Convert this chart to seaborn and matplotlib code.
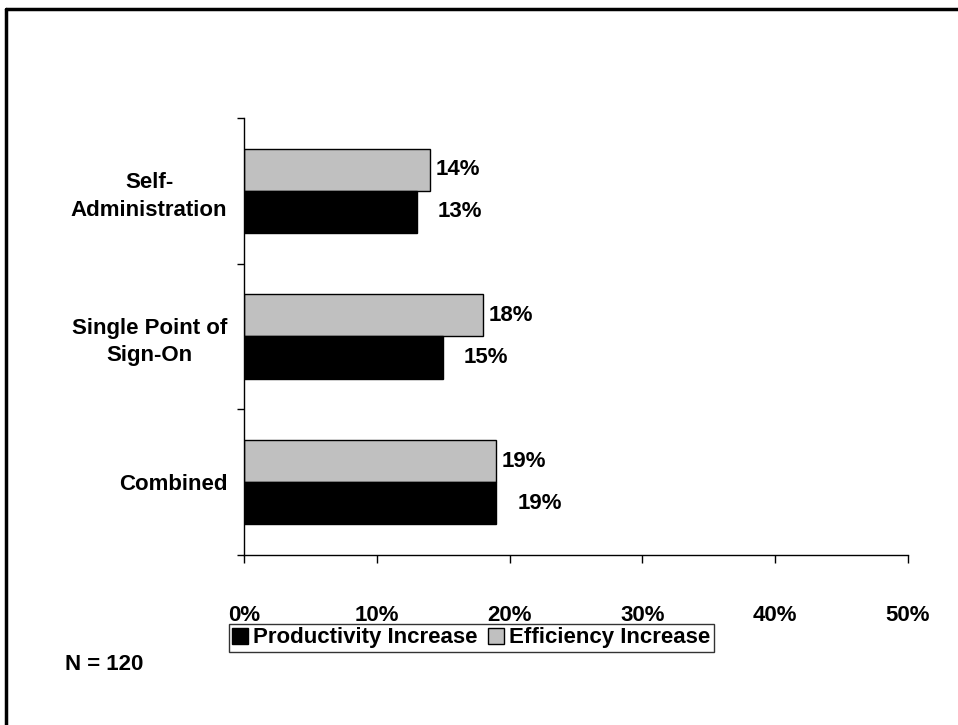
import pandas as pd
import matplotlib
matplotlib.use("Agg")
import matplotlib.pyplot as plt
from matplotlib.lines import Line2D
from matplotlib.patches import Patch
import seaborn as sns

categories = ["Self-\nAdministration", "Single Point of\nSign-On", "Combined"]
productivity = [13, 15, 19]
efficiency = [14, 18, 19]
x_ticks = [0, 10, 20, 30, 40, 50]
x_labels = ["0%", "10%", "20%", "30%", "40%", "50%"]

df = pd.DataFrame({
    "category": categories * 2,
    "value": efficiency + productivity,
    "series": ["Efficiency Increase"] * 3 + ["Productivity Increase"] * 3,
})

sns.set_theme(style="white")
plt.rcParams["font.family"] = ["Liberation Sans", "DejaVu Sans"]
plt.rcParams["font.weight"] = "bold"
plt.rcParams["text.color"] = "black"
plt.rcParams["xtick.color"] = "black"
plt.rcParams["ytick.color"] = "black"

FS = 16

fig = plt.figure(figsize=(9.58, 7.25), dpi=100)
ax = fig.add_axes([0.2547, 0.2345, 0.6931, 0.6028])

palette = {"Efficiency Increase": "#c0c0c0", "Productivity Increase": "#000000"}
sns.barplot(data=df, x="value", y="category", hue="series",
            hue_order=["Efficiency Increase", "Productivity Increase"],
            palette=palette, orient="h", width=0.58, edgecolor="black",
            linewidth=1, saturation=1, legend=False, ax=ax)

# value labels
ax.bar_label(ax.containers[0], labels=[f"{v}%" for v in efficiency],
             padding=4, fontsize=FS, fontweight="bold", color="black")
ax.bar_label(ax.containers[1], labels=[f"{v}%" for v in productivity],
             padding=15, fontsize=FS, fontweight="bold", color="black")

ax.set_xlim(0, 50)
ax.set_ylim(2.5, -0.5)
ax.set_xticks(x_ticks)
ax.set_xticklabels(x_labels, fontsize=FS, fontweight="bold")
ax.tick_params(axis="x", direction="out", length=6, width=1, pad=30,
               bottom=True, color="black", labelcolor="black")

# category boundaries as major ticks, labels on minor ticks
ax.set_yticks([-0.5, 0.5, 1.5, 2.5])
ax.set_yticklabels([])
ax.tick_params(axis="y", which="major", direction="out", length=5, width=1,
               left=True, color="black")
ax.set_yticks(range(len(categories)), minor=True)
ax.set_yticklabels(categories, minor=True, fontsize=FS, fontweight="bold")
ax.tick_params(axis="y", which="minor", length=0, pad=12, labelcolor="black")
for lbl in ax.get_yticklabels(minor=True):
    lbl.set_multialignment("center")
    lbl.set_linespacing(1.4)

ax.set_xlabel("")
ax.set_ylabel("")
for side in ["top", "right"]:
    ax.spines[side].set_visible(False)
for side in ["left", "bottom"]:
    ax.spines[side].set_color("black")
    ax.spines[side].set_linewidth(1)

handles = [Patch(facecolor="#000000", edgecolor="black", label="Productivity Increase"),
           Patch(facecolor="#c0c0c0", edgecolor="black", label="Efficiency Increase")]
leg = fig.legend(handles=handles, loc="center", bbox_to_anchor=(0.492, 0.12),
                 ncol=2, frameon=True, fancybox=False, fontsize=FS,
                 handlelength=0.7, handleheight=0.7, handletextpad=0.25,
                 columnspacing=0.45, borderpad=0.15, borderaxespad=0)
leg.get_frame().set_edgecolor("black")
leg.get_frame().set_linewidth(1)

fig.text(65 / 958, 1 - 665 / 725, "N = 120", fontsize=FS, fontweight="bold",
         va="center", ha="left")

# outer frame (cropped on the right and bottom)
fig.add_artist(Line2D([0.006, 0.006], [0, 0.988], color="black", lw=2.5,
                      transform=fig.transFigure))
fig.add_artist(Line2D([0.006, 1], [0.988, 0.988], color="black", lw=2.5,
                      transform=fig.transFigure))

fig.savefig("out.png", dpi=100, facecolor="white")
